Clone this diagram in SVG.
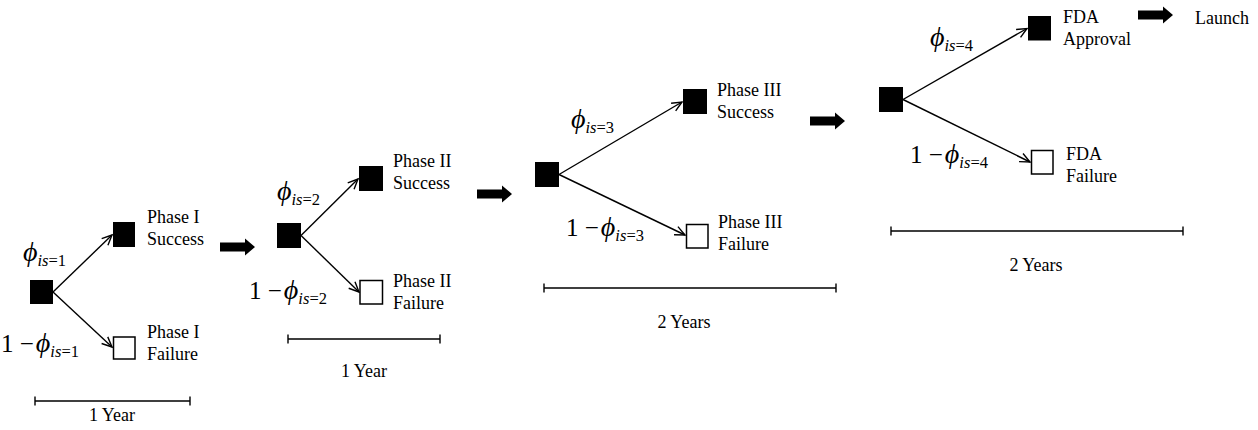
<svg xmlns="http://www.w3.org/2000/svg" width="1258" height="430" viewBox="0 0 1258 430">
  <style>
    .lbl { font-family: "Liberation Serif", "Times New Roman", serif; font-size: 18px; fill: #000; }
    .math { font-family: "Liberation Serif", "DejaVu Serif", serif; font-size: 25px; fill: #000; }
    .phi { font-style: italic; font-size: 28px; }
    .it { font-style: italic; }
    .sub { font-size: 16.5px; }
    .done { fill: #000; }
    .fail { fill: #fff; stroke: #000; stroke-width: 1.5; }
    .edge { stroke: #000; stroke-width: 1.4; fill: none; marker-end: url(#open); }
    .bar { stroke: #000; stroke-width: 1.4; fill: none; }
    .step { fill: #000; }
  </style>
  <defs>
    <marker id="open" viewBox="-12 -6 14 12" refX="0" refY="0" markerWidth="14" markerHeight="12" markerUnits="userSpaceOnUse" orient="auto">
      <path d="M -10 -4.5 L 0 0 L -10 4.5" fill="none" stroke="#000" stroke-width="1.4"/>
    </marker>
    <path id="block" d="M 0 -4.5 H 25 V -8.5 L 35 0 L 25 8.5 V 4.5 H 0 Z"/>
  </defs>

  <!-- branch connectors -->
  <g id="connectors">
    <line class="edge" x1="53" y1="292" x2="112" y2="235"/>
    <line class="edge" x1="53" y1="292" x2="112" y2="347"/>
    <line class="edge" x1="301" y1="235.5" x2="358" y2="179"/>
    <line class="edge" x1="301" y1="235.5" x2="359" y2="292"/>
    <line class="edge" x1="559" y1="174.5" x2="682" y2="102"/>
    <line class="edge" x1="559" y1="174.5" x2="685" y2="235"/>
    <line class="edge" x1="903" y1="99.5" x2="1027" y2="28.5"/>
    <line class="edge" x1="903" y1="99.5" x2="1030" y2="162"/>
  </g>

  <!-- stage transition arrows -->
  <g id="steps">
    <use href="#block" class="step" transform="translate(220,247)"/>
    <use href="#block" class="step" transform="translate(477,194)"/>
    <use href="#block" class="step" transform="translate(810,121)"/>
    <use href="#block" class="step" transform="translate(1138,15)"/>
  </g>

  <!-- Phase I -->
  <g id="phase1">
    <rect class="done" x="30" y="280" width="23" height="24"/>
    <rect class="done" x="113" y="222" width="22" height="25"/>
    <rect class="fail" x="113.5" y="337" width="21.5" height="22"/>
    <text class="math" x="23" y="261"><tspan class="phi">ϕ</tspan><tspan class="sub it" dy="5">is</tspan><tspan class="sub">=1</tspan></text>
    <text class="math" x="1" y="352">1 −<tspan class="phi" dx="2">ϕ</tspan><tspan class="sub it" dy="5">is</tspan><tspan class="sub">=1</tspan></text>
    <text class="lbl" x="147" y="223">Phase I</text>
    <text class="lbl" x="147" y="245">Success</text>
    <text class="lbl" x="147" y="338">Phase I</text>
    <text class="lbl" x="147" y="360">Failure</text>
    <path class="bar" d="M35 401 H190 M35 396.5 V405.5 M190 396.5 V405.5"/>
    <text class="lbl" x="112" y="421" text-anchor="middle">1 Year</text>
  </g>

  <!-- Phase II -->
  <g id="phase2">
    <rect class="done" x="277" y="223" width="24" height="25"/>
    <rect class="done" x="359" y="166" width="24" height="25"/>
    <rect class="fail" x="360" y="280.5" width="22.5" height="23.5"/>
    <text class="math" x="277" y="200"><tspan class="phi">ϕ</tspan><tspan class="sub it" dy="5">is</tspan><tspan class="sub">=2</tspan></text>
    <text class="math" x="249" y="299">1 −<tspan class="phi" dx="2">ϕ</tspan><tspan class="sub it" dy="5">is</tspan><tspan class="sub">=2</tspan></text>
    <text class="lbl" x="393" y="167">Phase II</text>
    <text class="lbl" x="393" y="189">Success</text>
    <text class="lbl" x="393" y="287">Phase II</text>
    <text class="lbl" x="393" y="309">Failure</text>
    <path class="bar" d="M288 339 H440 M288 334.5 V343.5 M440 334.5 V343.5"/>
    <text class="lbl" x="364" y="377" text-anchor="middle">1 Year</text>
  </g>

  <!-- Phase III -->
  <g id="phase3">
    <rect class="done" x="535" y="162" width="24" height="25"/>
    <rect class="done" x="683" y="89" width="24" height="25"/>
    <rect class="fail" x="686.5" y="224.5" width="21.5" height="23.5"/>
    <text class="math" x="571" y="128"><tspan class="phi">ϕ</tspan><tspan class="sub it" dy="5">is</tspan><tspan class="sub">=3</tspan></text>
    <text class="math" x="566" y="236">1 −<tspan class="phi" dx="2">ϕ</tspan><tspan class="sub it" dy="5">is</tspan><tspan class="sub">=3</tspan></text>
    <text class="lbl" x="717" y="96">Phase III</text>
    <text class="lbl" x="717" y="118">Success</text>
    <text class="lbl" x="718" y="228">Phase III</text>
    <text class="lbl" x="718" y="250">Failure</text>
    <path class="bar" d="M544 288 H836 M544 283.5 V292.5 M836 283.5 V292.5"/>
    <text class="lbl" x="684" y="328" text-anchor="middle">2 Years</text>
  </g>

  <!-- FDA review -->
  <g id="fda">
    <rect class="done" x="879" y="87" width="24" height="25"/>
    <rect class="done" x="1028" y="16" width="23" height="24.5"/>
    <rect class="fail" x="1031.5" y="150.5" width="21.5" height="23.5"/>
    <text class="math" x="930" y="46"><tspan class="phi">ϕ</tspan><tspan class="sub it" dy="5">is</tspan><tspan class="sub">=4</tspan></text>
    <text class="math" x="910" y="163">1 −<tspan class="phi" dx="2">ϕ</tspan><tspan class="sub it" dy="5">is</tspan><tspan class="sub">=4</tspan></text>
    <text class="lbl" x="1063" y="23">FDA</text>
    <text class="lbl" x="1063" y="45">Approval</text>
    <text class="lbl" x="1066" y="160">FDA</text>
    <text class="lbl" x="1066" y="182">Failure</text>
    <path class="bar" d="M891 231 H1183 M891 226.5 V235.5 M1183 226.5 V235.5"/>
    <text class="lbl" x="1036" y="271" text-anchor="middle">2 Years</text>
  </g>

  <!-- market entry -->
  <g id="launch">
    <text class="lbl" x="1195" y="24">Launch</text>
  </g>
</svg>
